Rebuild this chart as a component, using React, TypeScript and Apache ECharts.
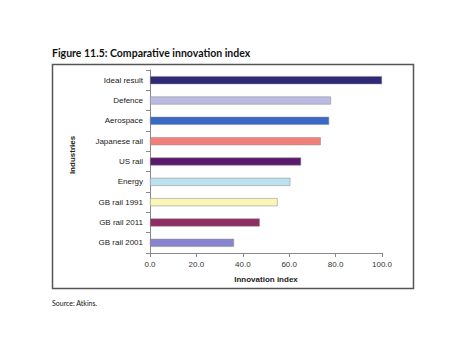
import React, { useEffect, useRef } from "react";
import * as echarts from "echarts";

const categories = [
  "Ideal result",
  "Defence",
  "Aerospace",
  "Japanese rail",
  "US rail",
  "Energy",
  "GB rail 1991",
  "GB rail 2011",
  "GB rail 2001",
];
const values = [100, 78.0, 77.2, 73.6, 65.1, 60.5, 55.0, 47.3, 36.2];
const colors = [
  "#2e2a78",
  "#babae2",
  "#3a6ac6",
  "#f2807a",
  "#5a1a6e",
  "#bce2f2",
  "#faf6b6",
  "#8e2e62",
  "#8a84d0",
];
const xTicks = [0, 20, 40, 60, 80, 100];

export default function App() {
  const ref = useRef<HTMLDivElement>(null);
  useEffect(() => {
    const chart = echarts.init(ref.current!, null, { renderer: "svg" });
    chart.setOption({
      animation: false,
      backgroundColor: "#ffffff",
      textStyle: { fontFamily: "Liberation Sans" },
      grid: { left: 150, right: 71, top: 70, bottom: 99 },
      xAxis: {
        type: "value",
        min: xTicks[0],
        max: xTicks[xTicks.length - 1],
        interval: 20,
        name: "Innovation index",
        nameLocation: "middle",
        nameGap: 22,
        nameTextStyle: { fontSize: 8, fontWeight: "bold", color: "#222" },
        axisLine: { show: true, lineStyle: { color: "#888", width: 1 } },
        axisTick: { show: true, length: 4, lineStyle: { color: "#888" } },
        axisLabel: {
          fontSize: 8,
          color: "#333",
          margin: 7,
          formatter: (v: number) => v.toFixed(1),
        },
        splitLine: { show: false },
      },
      yAxis: {
        type: "category",
        data: categories,
        inverse: true,
        axisLine: { show: true, lineStyle: { color: "#888", width: 1 } },
        axisTick: { show: true, length: 4, lineStyle: { color: "#888" } },
        axisLabel: { fontSize: 8, color: "#222", margin: 7 },
      },
      series: [
        {
          type: "bar",
          barWidth: 8,
          data: values.map((v, i) => ({
            value: v,
            itemStyle: { color: colors[i], borderColor: "#888", borderWidth: 0.5 },
          })),
        },
      ],
      graphic: [
        {
          type: "text",
          left: 52,
          top: 47,
          style: {
            text: "Figure 11.5: Comparative innovation index",
            font: "bold 10.5px Lato",
            fill: "#111",
          },
        },
        {
          type: "rect",
          shape: { x: 52.5, y: 64.5, width: 361, height: 224 },
          style: { fill: "none", stroke: "#555", lineWidth: 1.5 },
          silent: true,
        },
        {
          type: "text",
          x: 72,
          y: 155,
          rotation: Math.PI / 2,
          style: {
            text: "Industries",
            font: "bold 8px Liberation Sans",
            fill: "#222",
            align: "center",
            verticalAlign: "middle",
          },
        },
        {
          type: "text",
          left: 52,
          top: 299,
          style: {
            text: "Source: Atkins.",
            font: "7px Lato",
            fill: "#111",
          },
        },
      ],
    });
    return () => chart.dispose();
  }, []);
  return <div ref={ref} style={{ width: 453, height: 352, position: "absolute", left: 0, top: 0 }} />;
}
